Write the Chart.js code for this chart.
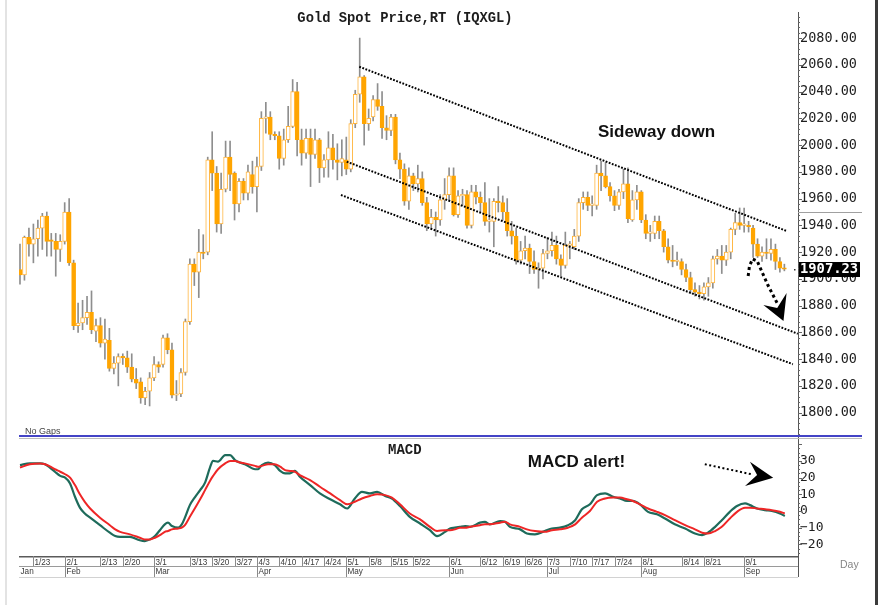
<!DOCTYPE html>
<html>
<head>
<meta charset="utf-8">
<title>Gold Spot Price,RT (IQXGL)</title>
<script src="https://cdn.jsdelivr.net/npm/chart.js@4.4.1/dist/chart.umd.min.js"></script>
<style>
html,body{margin:0;padding:0;background:#fff;}
#wrap{position:relative;width:878px;height:605px;overflow:hidden;background:#fff;}
#wrap canvas{position:absolute;left:0;}
#c1{top:0;}
#c2{top:440px;}
.edge{position:absolute;top:0;height:605px;}
</style>
</head>
<body>
<div id="wrap">
  <div class="edge" style="left:5px;width:2px;background:#e3e3e3;"></div>
  <div class="edge" style="left:875px;width:3px;background:#3b3b3b;"></div>
  <canvas id="c1" width="878" height="440"></canvas>
  <canvas id="c2" width="878" height="165"></canvas>
</div>
<script>
// ---------------- DATA ----------------
const chartTitle = 'Gold Spot Price,RT (IQXGL)';

const days = [
 '1/18','1/19','1/20','1/23','1/24','1/25','1/26','1/27','1/30','1/31',
 '2/1','2/2','2/3','2/6','2/7','2/8','2/9','2/10','2/13','2/14','2/15','2/16','2/17','2/20','2/21','2/22','2/23','2/24','2/27','2/28',
 '3/1','3/2','3/3','3/6','3/7','3/8','3/9','3/10','3/13','3/14','3/15','3/16','3/17','3/20','3/21','3/22','3/23','3/24','3/27','3/28','3/29','3/30','3/31',
 '4/3','4/4','4/5','4/6','4/7','4/10','4/11','4/12','4/13','4/14','4/17','4/18','4/19','4/20','4/21','4/24','4/25','4/26','4/27','4/28',
 '5/1','5/2','5/3','5/4','5/5','5/8','5/9','5/10','5/11','5/12','5/15','5/16','5/17','5/18','5/19','5/22','5/23','5/24','5/25','5/26','5/29','5/30','5/31',
 '6/1','6/2','6/5','6/6','6/7','6/8','6/9','6/12','6/13','6/14','6/15','6/16','6/19','6/20','6/21','6/22','6/23','6/26','6/27','6/28','6/29','6/30',
 '7/3','7/4','7/5','7/6','7/7','7/10','7/11','7/12','7/13','7/14','7/17','7/18','7/19','7/20','7/21','7/24','7/25','7/26','7/27','7/28','7/31',
 '8/1','8/2','8/3','8/4','8/7','8/8','8/9','8/10','8/11','8/14','8/15','8/16','8/17','8/18','8/21','8/22','8/23','8/24','8/25','8/28','8/29','8/30','8/31',
 '9/1','9/4','9/5','9/6','9/7','9/8','9/11','9/12','9/13','9/14'
];

const opens = [
 1907,1903,1931,1926,1930,1938,1947,1929,1928,1922,
 1928,1950,1912,1865,1867,1871,1875,1861,1865,1852,
 1854,1833,1837,1842,1841,1834,1825,1823,1811,1816,
 1826,1836,1836,1856,1847,1813,1814,1830,1868,1911,
 1905,1920,1920,1989,1979,1941,1967,1991,1979,1956,
 1973,1964,1978,1969,1984,2020,2021,2008,2007,1990,
 2004,2014,2040,2004,1994,2005,1993,2004,1983,1989,
 1998,1989,1987,1989,1982,2016,2038,2051,2016,2021,
 2034,2029,2013,2011,2021,1989,1982,1958,1977,1971,
 1975,1957,1941,1946,1944,1959,1963,1977,1948,1962,
 1963,1940,1965,1961,1957,1943,1943,1958,1957,1950,
 1936,1932,1914,1921,1923,1913,1907,1908,1919,1921,
 1925,1915,1910,1925,1924,1932,1957,1961,1955,1955,
 1979,1977,1969,1962,1955,1965,1971,1944,1959,1965,
 1944,1934,1934,1943,1936,1924,1914,1913,1913,1907,
 1901,1892,1890,1889,1894,1897,1915,1917,1914,1920,
 1937,1942,1940,1940,1938,1926,1917,1920,1919,1922,
 1913,1908
];
const highs = [
 1926,1932,1938,1941,1944,1949,1950,1934,1934,1933,
 1957,1960,1914,1882,1884,1887,1891,1870,1871,1870,
 1863,1842,1844,1844,1846,1844,1833,1826,1819,1830,
 1842,1838,1858,1859,1852,1824,1833,1870,1915,1915,
 1937,1933,1991,2010,1984,1979,2003,2003,1980,1975,
 1975,1985,1988,1991,2025,2032,2025,2010,2010,2012,
 2029,2049,2047,2012,2012,2012,2012,2005,1993,2010,
 2008,2001,2004,2006,2019,2041,2080,2052,2027,2037,
 2046,2040,2022,2023,2023,1994,1986,1983,1979,1985,
 1980,1961,1952,1950,1963,1975,1983,1983,1966,1967,
 1966,1970,1970,1965,1972,1960,1960,1969,1962,1960,
 1943,1938,1928,1932,1926,1921,1912,1922,1931,1935,
 1932,1918,1935,1928,1937,1960,1965,1965,1962,1985,
 1988,1987,1972,1966,1967,1982,1983,1966,1970,1966,
 1948,1940,1947,1947,1937,1930,1925,1920,1915,1911,
 1905,1897,1895,1897,1901,1917,1922,1925,1925,1938,
 1949,1953,1953,1943,1940,1930,1924,1930,1930,1926,
 1916,1911
];
const lows = [
 1896,1899,1917,1912,1917,1922,1917,1917,1902,1913,
 1926,1910,1862,1860,1862,1866,1859,1853,1849,1840,
 1831,1829,1820,1836,1830,1823,1818,1807,1806,1805,
 1824,1830,1834,1844,1811,1809,1812,1828,1866,1895,
 1886,1915,1918,1966,1935,1934,1965,1966,1944,1950,
 1959,1959,1964,1950,1981,2009,2004,2004,1982,1985,
 2002,2013,1992,1985,1990,1969,1990,1972,1976,1976,
 1982,1974,1977,1978,1980,2013,2032,2000,2011,2018,
 2026,2005,2004,2007,1986,1975,1955,1952,1966,1965,
 1955,1936,1937,1932,1940,1952,1958,1947,1946,1955,
 1938,1938,1956,1950,1940,1935,1924,1950,1944,1932,
 1926,1911,1911,1915,1904,1904,1893,1900,1915,1917,
 1911,1902,1908,1915,1922,1928,1952,1951,1947,1952,
 1966,1968,1958,1951,1952,1960,1942,1943,1952,1942,
 1930,1928,1930,1930,1920,1912,1909,1910,1903,1898,
 1889,1887,1885,1884,1887,1893,1911,1904,1910,1915,
 1933,1937,1935,1935,1916,1916,1913,1915,1914,1907,
 1905,1906
];
const closes = [
 1903,1931,1926,1930,1938,1947,1928,1928,1922,1928,
 1950,1912,1865,1867,1871,1875,1862,1865,1852,1855,
 1833,1837,1842,1841,1834,1825,1822,1811,1816,1826,
 1836,1834,1856,1847,1813,1814,1830,1868,1911,1905,
 1920,1919,1989,1979,1941,1967,1991,1978,1956,1973,
 1964,1980,1969,1984,2020,2021,2008,2007,1990,2004,
 2014,2040,2004,1994,2005,1993,2004,1983,1989,1998,
 1989,1987,1990,1982,2016,2038,2051,2016,2020,2034,
 2029,2013,2011,2021,1989,1982,1958,1977,1971,1975,
 1957,1941,1946,1944,1959,1963,1977,1948,1962,1963,
 1940,1965,1961,1957,1943,1943,1958,1957,1950,1936,
 1932,1914,1921,1923,1913,1907,1908,1919,1921,1925,
 1915,1910,1925,1925,1932,1957,1961,1955,1955,1979,
 1977,1969,1962,1955,1965,1971,1945,1959,1965,1944,
 1934,1934,1943,1936,1924,1914,1913,1913,1907,1901,
 1892,1890,1889,1894,1897,1915,1917,1914,1920,1937,
 1942,1940,1940,1939,1926,1917,1920,1919,1922,1913,
 1908,1907.23
];

const priceTicks = [1800,1820,1840,1860,1880,1900,1920,1940,1960,1980,2000,2020,2040,2060,2080];

// MACD panel: day position, MACD line, signal line
const macdIdx = [0,2.2,4.5,5.6,6.7,7.8,9,10.1,11.2,12.3,13.4,14.5,15.7,17.9,20.1,21.3,22.4,24.6,26.8,27.9,
 29.1,30.2,31.3,32.4,33.1,34,35.4,36.2,36.9,38,39.2,40.3,41.4,42.5,43.2,44.3,45.9,47,48.1,49.2,
 50.3,52.6,53.2,54.1,55.5,57,58.2,59.3,60.4,61.5,62.6,64.9,67.1,69.4,71.6,73.2,74.9,76.5,78.3,79.9,
 81.7,83.2,85,87.2,89.5,91.7,93.3,95.1,96.2,97.3,98.4,99.6,100.7,102.9,104,105.1,107.4,108.5,109.6,111.9,
 113.4,115.2,117.4,119,120.8,122.6,124.2,125.7,127.5,129.1,130.9,132.7,134.2,135.8,137.1,138.7,140.5,142.5,144.3,146.5,
 148.8,151,152.6,153.9,155.5,157,158.8,160.4,162.2,163.3,164.9,166.7,168.2,170,171.1];
const macdLine = [27.5,28.5,28.5,28,26,23.5,21,20,16.5,8.5,2,-1.5,-4,-8.5,-13,-15,-15.5,-15.5,-17.5,-18,
 -17,-15,-11.5,-8,-7,-9,-10,-8,-4,3.5,8.5,12.5,17,26,30,29.5,33.5,33.5,30.5,29,
 28,25,25,27.5,29,27.5,24,22.5,22.5,24,20.5,15.5,10.5,7,4,1.5,7.5,11.5,10.5,11.5,
 9,7.5,3,-3.5,-7.5,-11.5,-15,-12.5,-10.5,-10,-9.5,-9,-9.5,-7,-6.5,-8,-6,-6.5,-9.5,-11,
 -13.5,-14,-12,-10.5,-10,-8.5,-5.5,1,4,9.5,10.5,8.5,7.5,6,6,4,-0.5,-2,-4.5,-8,
 -10.5,-13.5,-14.5,-13,-9.5,-5.5,-0.5,3,4.5,3.5,1.5,0.5,0,-1.5,-3];
const signalLine = [26,28,28.5,28,26.7,25,23.5,22,20,15.5,10,5.5,1.5,-4,-8.5,-11,-12.5,-14,-16,-17,
 -17,-16,-14.5,-12.5,-12,-11,-10.5,-10,-8.5,-3.5,2,7,12.5,18,21,25,28.5,30,30,29,
 28.5,27,26.5,27,28,28,26.5,24.5,24,23.5,21.5,18.5,14.5,10.5,6.5,4,5.5,7.5,9,10,
 9.5,8,4,-1.5,-5,-9.5,-12,-11.5,-11.5,-11,-10,-10,-9.5,-8.5,-8,-8,-7,-6.5,-8,-9.5,
 -11,-12,-12.5,-11.5,-11,-10,-8,-4,0,5.5,7.5,8,8,7,6,4,1.5,-0.5,-2.5,-5.5,
 -8.5,-11,-13,-13.5,-12,-9.5,-4.5,-0.5,2,2,1.5,1,0.5,-0.5,-1.5];
const macdTicks = [-20,-10,0,10,20,30];

const dateTickIdx = [3,10,18,23,30,38,43,48,53,58,63,68,73,78,83,88,96,103,108,113,118,123,128,133,139,148,153,162];
const monthIdx = [0,10,30,53,73,96,118,139,162];
const monthLabels = ['Jan','Feb','Mar','Apr','May','Jun','Jul','Aug','Sep'];

// annotations, in (day position, price) / (day position, MACD) units
const channelUpper = [[75.9, 2058.6], [171.5, 1935.8]];
const channelMiddle = [[73.1, 1987.6], [174.0, 1859.0]];
const channelLower = [[71.8, 1962.7], [172.9, 1836.2]];
const downArrowPath = [[162.9, 1902.2], [163.2, 1909.6], [163.9, 1914.9], [164.9, 1913.4], [167.3, 1895.4], [169.6, 1880.5]];
const downArrowHead = [[166.3, 1880.5], [170.8, 1868.5], [171.5, 1889.5], [169.4, 1878.2]];
const sidewayText = {text: 'Sideway down', at: [129.3, 2009.5]};
const macdArrowPath = [[153.2, 28.0], [163.8, 21.9]];
const macdArrowHead = [[163.3, 29.5], [168.5, 19.9], [162.2, 15.0], [164.9, 21.6]];
const macdText = {text: 'MACD alert!', at: [113.6, 29.2]};

// ---------------- STYLE ----------------
const DOWN = '#ffa500', UP_LINE = '#ffb43c', UP_FILL = '#ffffff', WICK = '#8e8e8e';
const MONO = '"DejaVu Sans Mono", monospace';
const XMIN = -0.22, XMAX = 174.05;

function dotted(ctx, pts, X, Y, w, dash) {
  ctx.save();
  ctx.strokeStyle = '#000'; ctx.lineWidth = w; ctx.setLineDash(dash); ctx.lineCap = 'butt';
  ctx.beginPath();
  pts.forEach((p, i) => i ? ctx.lineTo(X(p[0]), Y(p[1])) : ctx.moveTo(X(p[0]), Y(p[1])));
  ctx.stroke();
  ctx.restore();
}
function head(ctx, pts, X, Y) {
  ctx.save();
  ctx.fillStyle = '#000';
  ctx.beginPath();
  pts.forEach((p, i) => i ? ctx.lineTo(X(p[0]), Y(p[1])) : ctx.moveTo(X(p[0]), Y(p[1])));
  ctx.closePath(); ctx.fill();
  ctx.restore();
}

const isUp = closes.map((c, i) => c >= opens[i]);
const wickData = closes.map((c, i) => ({x: i, y: [lows[i], highs[i]]}));
const bodyData = closes.map((c, i) => ({x: i, y: [Math.min(opens[i], c), Math.max(opens[i], c)]}));
const toXY = arr => arr.map(p => ({x: p[0], y: p[1]}));

const trendStyle = {type: 'line', borderColor: '#000', borderWidth: 2, borderDash: [1.8, 1.5], pointRadius: 0, order: 1, fill: false};

const pricePlugin = {
  id: 'priceDecor',
  afterDraw(chart) {
    const {ctx, chartArea: ca, scales: {x, y}} = chart;
    const X = v => x.getPixelForValue(v), Y = v => y.getPixelForValue(v);
    ctx.save();
    // title
    ctx.font = 'bold 13.8px "Liberation Mono", monospace';
    ctx.fillStyle = '#1c1c1c'; ctx.textAlign = 'center'; ctx.textBaseline = 'middle';
    ctx.fillText(chartTitle, 405, 19);
    // axis minor ticks
    ctx.fillStyle = '#666';
    for (let k = 446; k <= 524; k++) {
      const v = k * 4; const py = Math.round(Y(v));
      ctx.fillRect(ca.right, py, v % 20 === 0 ? 4 : 2, 1);
    }
    ctx.fillStyle = '#555';
    ctx.fillRect(ca.right, ca.bottom, 1, chart.height - ca.bottom);
    ctx.fillStyle = '#a0a0a0';
    ctx.fillRect(ca.right, 212, 64, 1);
    // big dotted arrow
    dotted(ctx, downArrowPath, X, Y, 3, [3, 3]);
    head(ctx, downArrowHead, X, Y);
    // text
    ctx.fillStyle = '#111'; ctx.textAlign = 'left'; ctx.textBaseline = 'middle';
    ctx.font = 'bold 17px "Liberation Sans", Arial, sans-serif';
    ctx.fillText(sidewayText.text, X(sidewayText.at[0]), Y(sidewayText.at[1]));
    // last price box
    const lp = closes[closes.length - 1], ly = Y(lp);
    ctx.fillStyle = '#000';
    ctx.fillRect(ca.right + 1, Math.round(ly - 7.5), 61, 15);
    ctx.fillStyle = '#fff'; ctx.font = 'bold 13.8px ' + MONO;
    ctx.fillText(lp.toFixed(2), ca.right + 2, ly + 0.5);
    ctx.fillStyle = '#333'; ctx.fillRect(ca.right - 4, Math.round(ly), 1.5, 1.5);
    // No Gaps
    ctx.fillStyle = '#444'; ctx.font = '9px "Liberation Sans", Arial, sans-serif';
    ctx.fillText('No Gaps', 25, 431.5);
    // separators
    ctx.fillStyle = '#4444c6'; ctx.fillRect(19, 435, 843, 2);
    ctx.fillStyle = '#bdbdbd'; ctx.fillRect(19, 438, 843, 1);
    ctx.restore();
  }
};

new Chart(document.getElementById('c1'), {
  type: 'bar',
  data: {
    datasets: [
      {type: 'bar', data: wickData, backgroundColor: WICK, borderWidth: 0, barThickness: 1, grouped: false, order: 3},
      {type: 'bar', data: bodyData,
        backgroundColor: isUp.map(u => u ? UP_FILL : DOWN),
        borderColor: isUp.map(u => u ? UP_LINE : DOWN),
        borderWidth: 1, borderSkipped: false, barThickness: 4, grouped: false, minBarLength: 1.5, order: 2},
      Object.assign({data: toXY(channelUpper)}, trendStyle),
      Object.assign({data: toXY(channelMiddle)}, trendStyle),
      Object.assign({data: toXY(channelLower)}, trendStyle)
    ]
  },
  options: {
    responsive: false, animation: false, devicePixelRatio: 1, events: [],
    layout: {padding: {left: 19, top: 12, right: 0, bottom: 3}},
    plugins: {legend: {display: false}, tooltip: {enabled: false}, title: {display: false}},
    scales: {
      x: {type: 'linear', min: XMIN, max: XMAX, offset: false, display: false, grid: {offset: false}},
      y: {
        position: 'right', min: 1781.8, max: 2099.5,
        afterFit(s) { s.width = 80; s.paddingTop = 0; s.paddingBottom = 0; },
        afterBuildTicks(s) { s.ticks = priceTicks.map(v => ({value: v})); },
        grid: {display: false, drawTicks: false},
        border: {display: true, color: '#555', width: 1},
        ticks: {padding: 2, color: '#1e1e1e', autoSkip: false, font: {family: MONO, size: 13.5},
          callback: v => Number(v).toFixed(2)}
      }
    }
  },
  plugins: [pricePlugin]
});

const macdPlugin = {
  id: 'macdDecor',
  afterDraw(chart) {
    const {ctx, chartArea: ca, scales: {x, y}} = chart;
    const X = v => x.getPixelForValue(v), Y = v => y.getPixelForValue(v);
    ctx.save();
    ctx.textBaseline = 'middle'; ctx.textAlign = 'left';
    // panel title
    ctx.fillStyle = '#1c1c1c'; ctx.font = 'bold 14px "Liberation Mono", monospace';
    ctx.fillText('MACD', 388, 10);
    // axis minor ticks + axis extension
    ctx.fillStyle = '#666';
    for (let k = -10; k <= 16; k++) {
      const v = k * 2.5; const py = Math.round(Y(v));
      ctx.fillRect(ca.right, py, v % 10 === 0 ? 4 : 2, 1);
    }
    ctx.fillStyle = '#555';
    ctx.fillRect(ca.right, 0, 1, ca.top);
    ctx.fillRect(ca.right, ca.bottom, 1, 21);
    // date rows
    const w = ca.right - ca.left;
    const r0 = ca.bottom, r1 = ca.bottom + 10, r2 = ca.bottom + 21;
    ctx.fillStyle = '#5a5a5a'; ctx.fillRect(ca.left, r0, w, 1.5);
    ctx.fillStyle = '#9a9a9a'; ctx.fillRect(ca.left, r1, w, 1);
    ctx.fillStyle = '#d2d2d2'; ctx.fillRect(ca.left, r2, w, 1);
    ctx.font = '9.5px "Liberation Sans", Arial, sans-serif';
    dateTickIdx.forEach(i => {
      const px = Math.round(X(i));
      ctx.fillStyle = '#8a8a8a'; ctx.fillRect(px, r0, 1, 10);
      ctx.save(); ctx.translate(px + 1.5, r0 + 6); ctx.scale(0.86, 1);
      ctx.fillStyle = '#3a3a3a'; ctx.fillText(days[i], 0, 0); ctx.restore();
    });
    monthIdx.forEach((i, k) => {
      const px = k === 0 ? ca.left : Math.round(X(i));
      if (k > 0) { ctx.fillStyle = '#8a8a8a'; ctx.fillRect(px, r1, 1, 11); }
      ctx.save(); ctx.translate(px + 1.5, r1 + 5.5); ctx.scale(0.86, 1);
      ctx.fillStyle = '#3a3a3a'; ctx.fillText(monthLabels[k], 0, 0); ctx.restore();
    });
    ctx.fillStyle = '#858585'; ctx.font = '10.5px "Liberation Sans", Arial, sans-serif';
    ctx.fillText('Day', 840, 125.5);
    // alert text and arrow
    ctx.fillStyle = '#111'; ctx.font = 'bold 17px "Liberation Sans", Arial, sans-serif';
    ctx.fillText(macdText.text, X(macdText.at[0]), Y(macdText.at[1]));
    dotted(ctx, macdArrowPath, X, Y, 2, [2, 2.5]);
    head(ctx, macdArrowHead, X, Y);
    ctx.restore();
  }
};

new Chart(document.getElementById('c2'), {
  type: 'line',
  data: {
    datasets: [
      {data: macdIdx.map((v, i) => ({x: v, y: signalLine[i]})), borderColor: '#ee2626', borderWidth: 2,
        pointRadius: 0, cubicInterpolationMode: 'monotone', fill: false, order: 1},
      {data: macdIdx.map((v, i) => ({x: v, y: macdLine[i]})), borderColor: '#1e6b5b', borderWidth: 2.2,
        pointRadius: 0, cubicInterpolationMode: 'monotone', fill: false, order: 2}
    ]
  },
  options: {
    responsive: false, animation: false, devicePixelRatio: 1, events: [],
    layout: {padding: {left: 19, top: 1, right: 0, bottom: 49}},
    plugins: {legend: {display: false}, tooltip: {enabled: false}},
    scales: {
      x: {type: 'linear', min: XMIN, max: XMAX, offset: false, display: false},
      y: {
        position: 'right', min: -26.95, max: 41.9,
        afterFit(s) { s.width = 80; s.paddingTop = 0; s.paddingBottom = 0; },
        afterBuildTicks(s) { s.ticks = macdTicks.map(v => ({value: v})); },
        grid: {display: false, drawTicks: false},
        border: {display: true, color: '#555', width: 1},
        ticks: {padding: 2, color: '#1e1e1e', autoSkip: false, font: {family: MONO, size: 13},
          callback: v => v < 0 ? '\u2212' + Math.abs(v) : String(v)}
      }
    }
  },
  plugins: [macdPlugin]
});
</script>
</body>
</html>
